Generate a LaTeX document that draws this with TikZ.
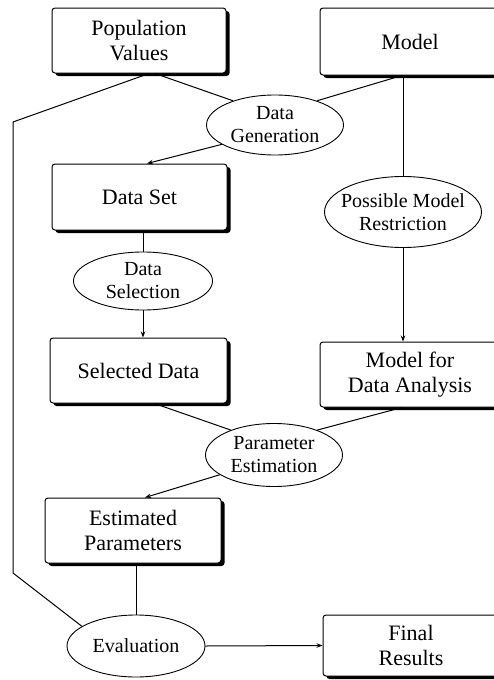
\documentclass[tikz,border=0pt]{standalone}
\usepackage{fontspec}
\setmainfont{Liberation Serif}
\usetikzlibrary{shapes.geometric,arrows.meta,shadows}
\begin{document}
\begin{tikzpicture}[x=1pt,y=-1pt,
  box/.style={draw, line width=1pt, rounded corners=3pt, fill=white,
    minimum width=#1, minimum height=65pt, align=center, inner sep=0pt,
    font=\fontsize{22}{25}\selectfont,
    drop shadow={shadow xshift=3.5pt, shadow yshift=-3pt, fill=black, opacity=1}},
  box/.default=176pt,
  oval/.style={draw, line width=0.9pt, ellipse, fill=white,
    minimum width=#1, minimum height=60pt, inner xsep=-45pt, inner ysep=-22pt,
    align=center, font=\fontsize{20}{23}\selectfont},
  oval/.default=137pt,
  conn/.style={line width=1pt},
  arr/.style={line width=1pt, -{Stealth[length=6pt,width=4.5pt]}}
]
\useasboundingbox (0,0) rectangle (494,680);
\clip (0,0) rectangle (494,680);

% boxes
\node[box=174pt] (pop) at (139,40.5) {Population\\Values};
\node[box=180pt, minimum height=67pt] (model) at (410,41.5) {Model};
\node[box=175pt, minimum height=66pt] (ds) at (139.5,197) {Data Set};
\node[box=177pt] (sel) at (138.5,370.5) {Selected Data};
\node[box=180pt] (mda) at (410,374.5) {Model for\\Data Analysis};
\node[box=176pt] (ep) at (133,530.5) {Estimated\\Parameters};
\node[box=176pt, minimum height=61pt] (fr) at (411,645.5) {Final\\Results};

% ellipses
\node[oval=137pt] (dg) at (275,125) {Data\\Generation};
\node[oval=157pt, minimum height=71pt] (pmr) at (403,212) {Possible Model\\Restriction};
\node[oval=139pt, minimum height=58pt] (dsel) at (143,281) {Data\\Selection};
\node[oval=137pt, minimum height=63pt] (pe) at (274,455) {Parameter\\Estimation};
\node[oval=138pt, minimum height=62pt] (ev) at (136,646) {Evaluation};

% helper coordinates of the left return line
\coordinate (c1) at (13,122);
\coordinate (c2) at (13,573);

% connectors
\draw[conn] ([xshift=16pt]pop.south) -- (dg.150);
\draw[conn] ([xshift=-8pt]model.south) -- (dg.30);
\draw[conn] ([xshift=10pt]pop.south) -- (c1) -- (c2) -- (ev.160);
\draw[arr] (dg.200) -- ([xshift=7.5pt]ds.north);
\draw[conn] (dsel.north |- ds.south) -- (dsel.north);
\draw[arr] (dsel.south) -- (dsel.south |- sel.north);
\draw[conn] (pmr.north |- model.south) -- (pmr.north);
\draw[arr] (pmr.south) -- (pmr.south |- mda.north);
\draw[conn] ([xshift=16pt]sel.south) -- (pe.150);
\draw[conn] ([xshift=-8pt]mda.south) -- (pe.30);
\draw[arr] (pe.200) -- ([xshift=12pt]ep.north);
\draw[conn] (ev.north |- ep.south) -- (ev.north);
\draw[arr] (ev.east) -- (fr.west);
\end{tikzpicture}
\end{document}
